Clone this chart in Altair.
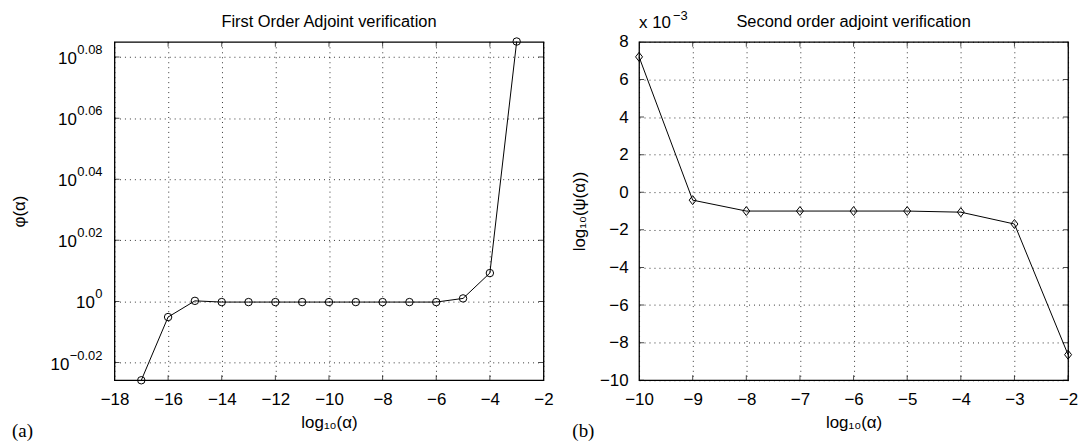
import altair as alt
import pandas as pd

# ---------------- data ----------------
# Panel (a): first order adjoint verification, y = log10(phi)
a_x = [-17, -16, -15, -14, -13, -12, -11, -10, -9, -8, -7, -6, -5, -4, -3]
a_logphi = [-0.0258, -0.0051, 0.0002, -0.0002, -0.0002, -0.0002, -0.0002, -0.0002,
            -0.0002, -0.0002, -0.0002, -0.0002, 0.0010, 0.0093, 0.0851]
a_xticks = [-18, -16, -14, -12, -10, -8, -6, -4, -2]
a_yticks = [-0.02, 0.0, 0.02, 0.04, 0.06, 0.08]
a_yexp = ["\u22120.02", "0", "0.02", "0.04", "0.06", "0.08"]

# Panel (b): second order adjoint verification, values x 10^-3
b_x = [-10, -9, -8, -7, -6, -5, -4, -3, -2]
b_psi = [7.2, -0.42, -1.0, -1.0, -1.0, -1.0, -1.06, -1.69, -8.64]
b_xticks = [-10, -9, -8, -7, -6, -5, -4, -3, -2]
b_yticks = [-10, -8, -6, -4, -2, 0, 2, 4, 6, 8]

a_title = "First Order Adjoint verification"
b_title = "Second order adjoint verification"
x_title = "log\u2081\u2080(\u03b1)"
a_ytitle = "\u03c6(\u03b1)"
b_ytitle = "log\u2081\u2080(\u03c8(\u03b1))"

FONT = "Liberation Sans"
W, H = 431, 340
LFS = 17      # tick label font size
TFS = 17      # axis title font size
EFS = 13      # exponent font size

a_xdom = [-18, -2]
a_ydom = [-0.0258, 0.085]
b_xdom = [-10, -2]
b_ydom = [-10, 8]

GRID = dict(grid=True, gridColor="#000000", gridDash=[1, 4], gridWidth=1, gridOpacity=0.8)
AXF = dict(labelFont=FONT, titleFont=FONT, labelFontSize=LFS, titleFontSize=TFS,
           labelColor="black", titleColor="black", titleFontWeight="normal",
           labelFontWeight="normal", labelOverlap=False, labelFlush=False, labelBound=False)

# shared axis definitions (reused by every layer so the merged axis keeps them)
ax_a_x = alt.Axis(values=a_xticks, title=x_title, ticks=False, domain=False,
                  labelPadding=11, minExtent=28, maxExtent=28, titlePadding=6, **GRID, **AXF)
ax_a_y = alt.Axis(values=a_yticks, labels=False, ticks=False, domain=False,
                  title=a_ytitle, titlePadding=86, minExtent=0, maxExtent=0, **GRID, **AXF)
ax_b_x = alt.Axis(values=b_xticks, title=x_title, ticks=False, domain=False, format="d",
                  labelPadding=11, minExtent=28, maxExtent=28, titlePadding=6, **GRID, **AXF)
ax_b_y = alt.Axis(values=b_yticks, format="d", ticks=False, domain=False,
                  labelPadding=11, minExtent=41, maxExtent=41, titlePadding=10,
                  title=b_ytitle, **GRID, **AXF)


def inward_ticks(xdom, ydom, xticks, yticks, xs, ys, axx, axy):
    ty = pd.DataFrame({"v": yticks})
    tx = pd.DataFrame({"v": xticks})
    layers = []
    for xd in xdom:
        layers.append(alt.Chart(ty).mark_tick(orient="horizontal", size=10, thickness=1,
                                              color="black", clip=True)
                      .encode(x=alt.datum(xd, scale=xs, axis=axx),
                              y=alt.Y("v:Q", scale=ys, axis=axy)))
    for yd in ydom:
        layers.append(alt.Chart(tx).mark_tick(orient="vertical", size=10, thickness=1,
                                              color="black", clip=True)
                      .encode(x=alt.X("v:Q", scale=xs, axis=axx),
                              y=alt.datum(yd, scale=ys, axis=axy)))
    return layers


def title_mark(text):
    return alt.Chart(pd.DataFrame({"t": [text]})).mark_text(
        align="center", baseline="alphabetic", fontSize=16.5, font=FONT, color="black"
    ).encode(x=alt.value(W / 2), y=alt.value(-15), text="t:N")


def tag_mark(text, xpos):
    return alt.Chart(pd.DataFrame({"t": [text]})).mark_text(
        align="left", baseline="alphabetic", fontSize=19, font="Liberation Serif", color="black"
    ).encode(x=alt.value(xpos), y=alt.value(397), text="t:N")


# ---------------- panel (a) ----------------
dfa = pd.DataFrame({"x": a_x, "y": a_logphi})
xs_a = alt.Scale(domain=a_xdom, nice=False, zero=False)
ys_a = alt.Scale(domain=a_ydom, nice=False, zero=False)

base_a = alt.Chart(dfa).encode(x=alt.X("x:Q", scale=xs_a, axis=ax_a_x),
                               y=alt.Y("y:Q", scale=ys_a, axis=ax_a_y))
line_a = base_a.mark_line(color="black", strokeWidth=1)
pts_a = base_a.mark_point(shape="circle", filled=False, size=56, color="black",
                          strokeWidth=1, opacity=1)

# custom "10^exp" tick labels
charw = {".": 0.278, "\u2212": 0.584}
exp_w = [EFS * sum(charw.get(c, 0.556) for c in s) for s in a_yexp]
lab_a = pd.DataFrame({"v": a_yticks, "e": a_yexp,
                      "ox": [-12 - w - 0.5 for w in exp_w]})
ten_a = alt.Chart(lab_a).mark_text(align="right", baseline="alphabetic", fontSize=LFS,
                                   font=FONT, dy=7, color="black").encode(
    x=alt.X("ox:Q", scale=None, axis=None), y=alt.Y("v:Q", scale=ys_a, axis=ax_a_y),
    text=alt.value("10"))
exp_a = alt.Chart(lab_a).mark_text(align="right", baseline="alphabetic", fontSize=EFS,
                                   font=FONT, dy=-3, color="black").encode(
    x=alt.value(-12), y=alt.Y("v:Q", scale=ys_a, axis=ax_a_y), text="e:N")

left = alt.layer(line_a, pts_a,
                 *inward_ticks(a_xdom, a_ydom, a_xticks, a_yticks, xs_a, ys_a, ax_a_x, ax_a_y),
                 ten_a, exp_a, tag_mark("(a)", -103), title_mark(a_title)).properties(
    width=W, height=H)

# ---------------- panel (b) ----------------
dfb = pd.DataFrame({"x": b_x, "y": b_psi})
xs_b = alt.Scale(domain=b_xdom, nice=False, zero=False)
ys_b = alt.Scale(domain=b_ydom, nice=False, zero=False)

base_b = alt.Chart(dfb).encode(x=alt.X("x:Q", scale=xs_b, axis=ax_b_x),
                               y=alt.Y("y:Q", scale=ys_b, axis=ax_b_y))
line_b = base_b.mark_line(color="black", strokeWidth=1)
pts_b = base_b.mark_point(shape="M0,-1L0.78,0L0,1L-0.78,0Z", filled=False, size=81,
                          color="black", strokeWidth=1, opacity=1)

mult = pd.DataFrame({"t": ["x 10"], "e": ["\u22123"]})
mult_b = alt.Chart(mult).mark_text(align="left", baseline="alphabetic", fontSize=LFS,
                                   font=FONT, color="black").encode(
    x=alt.value(0), y=alt.value(-14), text="t:N")
multe_b = alt.Chart(mult).mark_text(align="left", baseline="alphabetic", fontSize=EFS,
                                    font=FONT, color="black").encode(
    x=alt.value(34), y=alt.value(-22), text="e:N")

right = alt.layer(line_b, pts_b,
                  *inward_ticks(b_xdom, b_ydom, b_xticks, b_yticks, xs_b, ys_b, ax_b_x, ax_b_y),
                  mult_b, multe_b, tag_mark("(b)", -67), title_mark(b_title)).properties(
    width=W, height=H)

chart = alt.hconcat(left, right, spacing=96, bounds="flush").properties(
    padding={"left": 10, "top": 8, "right": 5, "bottom": 0}, background="white"
).configure_view(stroke="black", strokeWidth=1.3)

chart.save("out.html", embed_options={"renderer": "svg", "actions": False})
